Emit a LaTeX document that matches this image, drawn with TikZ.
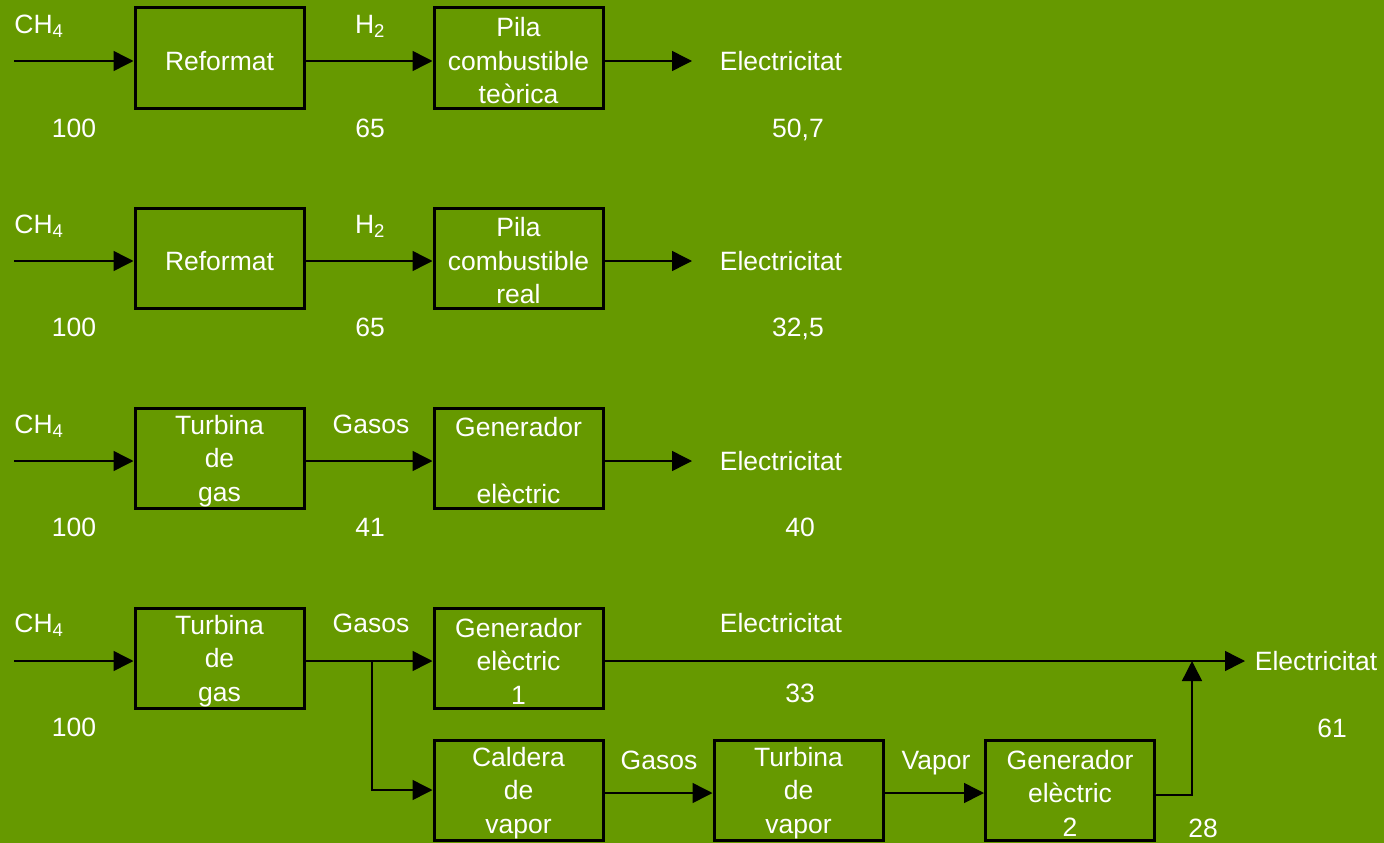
\documentclass[tikz,border=0pt]{standalone}
\usepackage{fontspec}
\setmainfont{Liberation Sans}
\usetikzlibrary{arrows.meta}
\definecolor{bg}{HTML}{669900}
\begin{document}
\begin{tikzpicture}[x=1pt,y=-1pt,
 box/.style={draw=black,line width=3pt,minimum width=169pt,minimum height=100pt,inner sep=0pt},
 mlbl/.style={text=white,font=\fontsize{26.5}{33.5}\selectfont,inner sep=0pt,align=center},
 lbl/.style={text=white,font=\fontsize{26.5}{33.5}\selectfont,inner sep=0pt,text height=19pt,text depth=0pt},
 arr/.style={draw=black,line width=1.5pt,-{Triangle[length=20pt,width=20pt]}}]
\fill[bg] (0,0) rectangle (1384,843);
\useasboundingbox (0,0) rectangle (1384,843);
% ---------- row 1
\node[box] (a1) at (219.5,58) {};
\node[box] (b1) at (518.5,58) {};
\node[mlbl] (ta1) at ([yshift=-3pt]a1.center) {Reformat};
\node[mlbl] (tb1) at ([yshift=-3pt]b1.center) {Pila\\combustible\\teòrica};
\coordinate (s1) at (14,61);
\coordinate (o1) at (692,61);
\draw[arr] (s1) -- (s1 -| a1.west);
\draw[arr] (a1.east |- s1) -- (s1 -| b1.west);
\draw[arr] (b1.east |- o1) -- (o1);
\node[lbl] (c1) at (39,24) {CH\textsubscript{4}};
\node[lbl] (h1) at (370,24) {H\textsubscript{2}};
\node[lbl] (e1) at (781,61) {Electricitat};
\node[lbl] (n1a) at (74,128) {100};
\node[lbl] (n1b) at (370,128) {65};
\node[lbl] (n1c) at (798,128) {50,7};
% ---------- row 2
\node[box] (a2) at (219.5,258) {};
\node[box] (b2) at (518.5,258) {};
\node[mlbl] (ta2) at ([yshift=-3pt]a2.center) {Reformat};
\node[mlbl] (tb2) at ([yshift=-3pt]b2.center) {Pila\\combustible\\real};
\coordinate (s2) at (14,261);
\coordinate (o2) at (692,261);
\draw[arr] (s2) -- (s2 -| a2.west);
\draw[arr] (a2.east |- s2) -- (s2 -| b2.west);
\draw[arr] (b2.east |- o2) -- (o2);
\node[lbl] (c2) at (39,224) {CH\textsubscript{4}};
\node[lbl] (h2) at (370,224) {H\textsubscript{2}};
\node[lbl] (e2) at (781,261) {Electricitat};
\node[lbl] (n2a) at (74,327) {100};
\node[lbl] (n2b) at (370,327) {65};
\node[lbl] (n2c) at (798,327) {32,5};
% ---------- row 3
\node[box] (a3) at (219.5,458) {};
\node[box] (b3) at (518.5,458) {};
\node[mlbl] (ta3) at ([yshift=-3pt]a3.center) {Turbina\\de\\gas};
\node[mlbl] (tb3) at ([yshift=-3pt]b3.center) {Generador\\\mbox{}\\elèctric};
\coordinate (s3) at (14,461);
\coordinate (o3) at (692,461);
\draw[arr] (s3) -- (s3 -| a3.west);
\draw[arr] (a3.east |- s3) -- (s3 -| b3.west);
\draw[arr] (b3.east |- o3) -- (o3);
\node[lbl] (c3) at (39,424) {CH\textsubscript{4}};
\node[lbl] (g3) at (371,424) {Gasos};
\node[lbl] (e3) at (781,461) {Electricitat};
\node[lbl] (n3a) at (74,527) {100};
\node[lbl] (n3b) at (370,527) {41};
\node[lbl] (n3c) at (800,527) {40};
% ---------- row 4
\node[box] (a4) at (219.5,658) {};
\node[box] (b4) at (518.5,658) {};
\node[box] (c4) at (518.5,790) {};
\node[box] (d4) at (798.5,790) {};
\node[box] (e4) at (1070,790) {};
\node[mlbl] (ta4) at ([yshift=-3pt]a4.center) {Turbina\\de\\gas};
\node[mlbl] (tb4) at ([yshift=-3pt]b4.center) {Generador\\elèctric\\1};
\node[mlbl] (tc4) at ([yshift=-3pt]c4.center) {Caldera\\de\\vapor};
\node[mlbl] (td4) at ([yshift=-3pt]d4.center) {Turbina\\de\\vapor};
\node[mlbl] (te4) at ([yshift=-3pt]e4.center) {Generador\\elèctric\\2};
\coordinate (s4) at (14,661);
\coordinate (br) at (372,661);
\coordinate (j) at (1192,661);
\coordinate (o4) at (1245,661);
\draw[arr] (s4) -- (s4 -| a4.west);
\draw[arr] (a4.east |- s4) -- (s4 -| b4.west);
\draw[arr] (br) |- (c4.west);
\draw[arr] ([yshift=-3pt]c4.east) -- ([yshift=-3pt]d4.west);
\draw[arr] ([yshift=-3pt]d4.east) -- ([yshift=-3pt]e4.west);
\draw[arr] (b4.east |- s4) -- (o4);
\draw[arr] ([yshift=-5pt]e4.east) -| (j);
\node[lbl] (c4l) at (39,623) {CH\textsubscript{4}};
\node[lbl] (g4a) at (371,623) {Gasos};
\node[lbl] (e4a) at (781,623) {Electricitat};
\node[lbl] (n4c) at (800,693) {33};
\node[lbl] (n4a) at (74,727) {100};
\node[lbl] (g4b) at (659,760) {Gasos};
\node[lbl] (v4) at (936,760) {Vapor};
\node[lbl] (e4b) at (1316,661) {Electricitat};
\node[lbl] (n4d) at (1332,728) {61};
\node[lbl] (n4e) at (1203,828) {28};
\end{tikzpicture}
\end{document}
